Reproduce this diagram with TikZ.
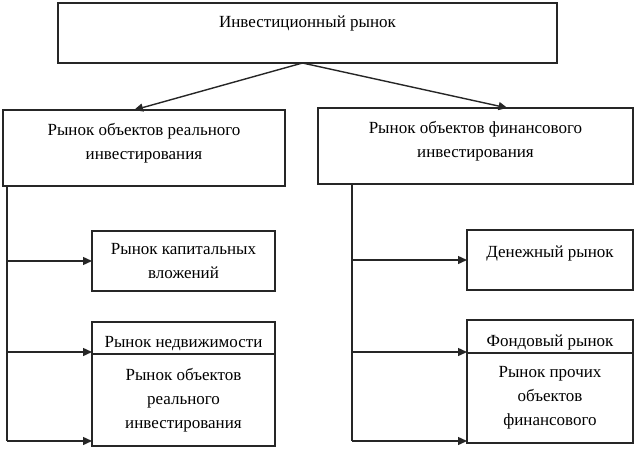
\documentclass[tikz,border=0pt]{standalone}
\usepackage{fontspec}
\setmainfont{Liberation Serif}
\usetikzlibrary{arrows.meta,positioning}
\newcommand{\lift}[2]{\raisebox{#1}[\height][\depth]{\begin{tabular}{@{}c@{}}#2\end{tabular}}}

\begin{document}
\begin{tikzpicture}[x=1pt,y=-1pt,
	box/.style={draw=black!85,line width=1.4pt,align=center,inner sep=0pt,outer sep=0pt,
		font=\fontsize{17}{24}\selectfont},
	link/.style={draw=black!85,line width=1.4pt},
	>={Triangle[length=9pt,width=8pt]}]
	\useasboundingbox (0,0) rectangle (637,450);

	\node[box,minimum width=499pt,minimum height=60pt] (market) at (307.5,33) {\lift{10pt}{Инвестиционный рынок}};
	\node[box,minimum width=282pt,minimum height=76pt] (real) at (144,148) {\lift{5.5pt}{Рынок объектов реального\\инвестирования}};
	\node[box,minimum width=315pt,minimum height=76pt] (fin) at (475.5,146) {\lift{5pt}{Рынок объектов финансового\\инвестирования}};

	\node[box,minimum width=183pt,minimum height=60pt] (capital) at (183.5,261) {Рынок капитальных\\вложений};
	\node[box,minimum width=183pt,minimum height=32pt] (realty) at (183.5,338) {\lift{-5pt}{Рынок недвижимости}};
	\node[box,minimum width=183pt,minimum height=92pt,below=0pt of realty] (realobj) {Рынок объектов\\реального\\инвестирования};

	\node[box,minimum width=166pt,minimum height=60pt] (money) at (550,260) {\lift{7pt}{Денежный рынок}};
	\node[box,minimum width=166pt,minimum height=33pt] (stock) at (550,336.5) {\lift{-5pt}{Фондовый рынок}};
	\node[box,minimum width=166pt,minimum height=90pt,below=0pt of stock] (otherfin) {Рынок прочих\\объектов\\финансового};

	% from the top
	\draw[link,->] ([xshift=-5pt]market.south) -- ([xshift=-10pt]real.north);
	\draw[link,->] ([xshift=-5pt]market.south) -- ([xshift=32pt]fin.north);

	% left branch
	\coordinate (lbot) at (7,441);
	\draw[link] (lbot |- real.south) -- (lbot);
	\draw[link,->] (lbot |- capital.west) -- (capital.west);
	\draw[link,->] ([yshift=2pt]lbot |- realty.south) -- ([yshift=2pt]realty.south west);
	\draw[link,->] (lbot) -- (lbot -| realobj.west);

	% right branch
	\coordinate (rbot) at (352,441);
	\draw[link] (rbot |- fin.south) -- (rbot);
	\draw[link,->] (rbot |- money.west) -- (money.west);
	\draw[link,->] ([yshift=1pt]rbot |- stock.south) -- ([yshift=1pt]stock.south west);
	\draw[link,->] (rbot) -- (rbot -| otherfin.west);
\end{tikzpicture}
\end{document}
